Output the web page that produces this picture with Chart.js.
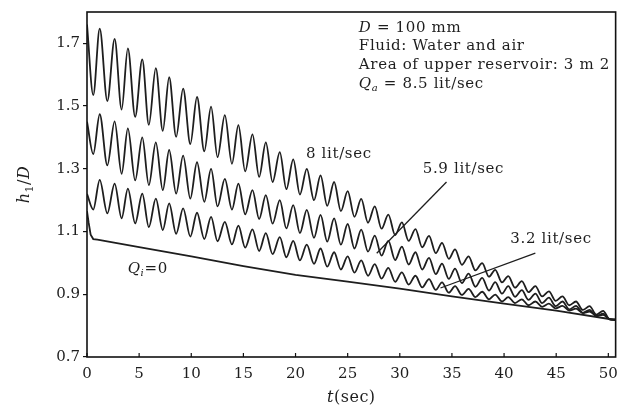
<!DOCTYPE html>
<html><head><meta charset="utf-8">
<script src="https://cdn.jsdelivr.net/npm/chart.js@4.4.0/dist/chart.umd.min.js"></script>
<style>html,body{margin:0;padding:0;background:#fff}</style>
</head><body>
<canvas id="c" width="626" height="420"></canvas>
<script>
// ---- data ----
const times = [0,0.6,1.22,1.95,2.65,3.32,3.92,4.62,5.3,5.93,
  6.6,7.27,7.88,8.55,9.22,9.91,10.55,11.25,11.9,12.52,
  13.22,13.9,14.52,15.17,15.87,16.51,17.15,17.8,18.49,19.12,
  19.78,20.42,21.08,21.77,22.4,23.04,23.7,24.35,25.0,25.65,
  26.3,26.95,27.6,28.25,28.9,29.55,30.2,30.85,31.5,32.15,
  32.8,33.45,34.05,34.7,35.3,35.95,36.6,37.25,37.9,38.55,
  39.15,39.8,40.4,41.05,41.7,42.35,43.0,43.65,44.3,44.95,
  45.6,46.25,46.9,47.55,48.2,48.85,49.5,50.1,50.7];
const q8 = [1.76,1.535,1.747,1.516,1.714,1.489,1.684,1.466,1.649,1.440,
  1.621,1.421,1.592,1.402,1.556,1.379,1.529,1.356,1.498,1.337,
  1.471,1.316,1.439,1.292,1.410,1.274,1.384,1.258,1.353,1.235,
  1.330,1.218,1.300,1.200,1.279,1.182,1.258,1.165,1.229,1.147,
  1.204,1.128,1.180,1.109,1.154,1.089,1.129,1.070,1.108,1.050,
  1.086,1.031,1.064,1.013,1.043,0.994,1.021,0.976,0.999,0.956,
  0.978,0.938,0.958,0.921,0.942,0.907,0.926,0.893,0.909,0.879,
  0.893,0.865,0.877,0.850,0.862,0.835,0.847,0.821,0.820];
const q59 = [1.45,1.347,1.474,1.311,1.451,1.284,1.429,1.263,1.400,1.248,
  1.384,1.232,1.360,1.221,1.342,1.205,1.321,1.195,1.300,1.180,
  1.268,1.170,1.253,1.155,1.232,1.140,1.216,1.125,1.200,1.110,
  1.184,1.095,1.169,1.080,1.153,1.068,1.142,1.058,1.124,1.046,
  1.106,1.036,1.087,1.023,1.070,1.009,1.052,0.995,1.034,0.979,
  1.016,0.964,0.998,0.949,0.982,0.936,0.966,0.924,0.952,0.912,
  0.939,0.902,0.926,0.892,0.913,0.882,0.902,0.872,0.889,0.862,
  0.877,0.852,0.863,0.841,0.850,0.830,0.838,0.820,0.819];
const q32 = [1.22,1.170,1.265,1.158,1.253,1.142,1.237,1.126,1.221,1.114,
  1.205,1.105,1.190,1.093,1.174,1.084,1.160,1.076,1.147,1.069,
  1.131,1.059,1.119,1.049,1.107,1.038,1.095,1.028,1.082,1.018,
  1.070,1.008,1.058,0.997,1.046,0.988,1.034,0.979,1.021,0.969,
  1.008,0.959,0.996,0.950,0.984,0.940,0.970,0.931,0.959,0.922,
  0.948,0.914,0.938,0.905,0.926,0.898,0.917,0.891,0.908,0.884,
  0.899,0.877,0.891,0.872,0.884,0.865,0.877,0.860,0.870,0.855,
  0.863,0.848,0.854,0.840,0.845,0.831,0.834,0.821,0.818];
const q0Times = [0,0.15,0.35,0.6,1,5,10,15,20,25,30,35,40,45,50.7];
const q0 = [1.165,1.13,1.09,1.076,1.074,1.05,1.021,0.99,0.962,0.94,0.918,0.893,0.87,0.848,0.818];
const xTicks = [0,5,10,15,20,25,30,35,40,45,50];
const yTicks = [0.7,0.9,1.1,1.3,1.5,1.7];
const seriesLabels = ['8 lit/sec','5.9 lit/sec','3.2 lit/sec'];
const infoLines = ['D = 100 mm','Fluid: Water and air','Area of upper reservoir: 3 m 2','Qa = 8.5 lit/sec'];

// ---- layout (in data units) ----
const labelPos = [[21.0,1.334],[32.2,1.286],[40.6,1.065]];
const pointers = [[34.48,1.258,27.79,1.031],[43.0,1.031,33.9,0.92]];
const q0LabelPos = [3.9,0.967];
const infoPos = [26.07,[1.735,1.678,1.618,1.558]];

const SERIF = '"DejaVu Serif", serif';
const R = '15px ' + SERIF, I = 'italic 15px ' + SERIF, SUB = 'italic 10px ' + SERIF;
const INK = '#1e1e1e';

function rich(ctx, x, y, segs){
  let cx = x;
  for (const s of segs){ ctx.font = s.f; ctx.fillText(s.t, cx, y + (s.dy||0)); cx += ctx.measureText(s.t).width; }
  return cx - x;
}
function richW(ctx, segs){ let w=0; for (const s of segs){ ctx.font=s.f; w+=ctx.measureText(s.t).width; } return w; }

const overlay = {
  id:'overlay',
  afterDraw(chart){
    const {ctx, chartArea:a, scales:{x,y}} = chart;
    ctx.save();
    ctx.strokeStyle = '#111'; ctx.lineWidth = 1.6;
    ctx.strokeRect(a.left, a.top, a.right-a.left, a.bottom-a.top);
    ctx.lineWidth = 1.2;
    xTicks.forEach(v=>{ const px=x.getPixelForValue(v); ctx.beginPath(); ctx.moveTo(px,a.bottom); ctx.lineTo(px,a.bottom-4); ctx.stroke(); });
    // pointer lines
    ctx.strokeStyle = INK; ctx.lineWidth = 1.3;
    pointers.forEach(p=>{ ctx.beginPath(); ctx.moveTo(x.getPixelForValue(p[0]),y.getPixelForValue(p[1])); ctx.lineTo(x.getPixelForValue(p[2]),y.getPixelForValue(p[3])); ctx.stroke(); });
    ctx.fillStyle = INK; ctx.textBaseline = 'alphabetic'; ctx.textAlign = 'left';
    ctx.letterSpacing = '0.65px';
    // series labels
    seriesLabels.forEach((t,i)=>{ ctx.font=R; ctx.fillText(t, x.getPixelForValue(labelPos[i][0]), y.getPixelForValue(labelPos[i][1])); });
    rich(ctx, x.getPixelForValue(q0LabelPos[0]), y.getPixelForValue(q0LabelPos[1]),
      [{t:'Q',f:I},{t:'i',f:SUB,dy:3},{t:'=0',f:R}]);
    // info block
    const ix = x.getPixelForValue(infoPos[0]);
    const iy = infoPos[1].map(v=>y.getPixelForValue(v));
    rich(ctx, ix, iy[0], [{t:'D',f:I},{t:infoLines[0].slice(1),f:R}]);
    ctx.font=R; ctx.fillText(infoLines[1], ix, iy[1]);
    ctx.fillText(infoLines[2], ix, iy[2]);
    rich(ctx, ix, iy[3], [{t:'Q',f:I},{t:'a',f:SUB,dy:3},{t:infoLines[3].slice(2),f:R}]);
    // axis titles
    ctx.letterSpacing = '0.5px';
    const xt = [{t:'t',f:'italic 16px '+SERIF},{t:'(sec)',f:'16px '+SERIF}];
    const xw = richW(ctx, xt);
    rich(ctx, (a.left+a.right)/2 - xw/2, 402, xt);
    const yt = [{t:'h',f:'italic 16px '+SERIF},{t:'1',f:'11px '+SERIF,dy:4},{t:'/',f:'16px '+SERIF},{t:'D',f:'italic 16px '+SERIF}];
    const yw = richW(ctx, yt);
    ctx.translate(29, (a.top+a.bottom)/2);
    ctx.rotate(-Math.PI/2);
    rich(ctx, -yw/2, 0, yt);
    ctx.restore();
  }
};

const mk = (vals, ts) => vals.map((v,i)=>({x:ts[i], y:v}));
const lineStyle = {borderColor:INK, borderWidth:1.8, pointRadius:0, fill:false, cubicInterpolationMode:'monotone'};

new Chart(document.getElementById('c'), {
  type:'line',
  data:{datasets:[
    Object.assign({label:seriesLabels[0], data:mk(q8,times)}, lineStyle),
    Object.assign({label:seriesLabels[1], data:mk(q59,times)}, lineStyle),
    Object.assign({label:seriesLabels[2], data:mk(q32,times)}, lineStyle),
    Object.assign({label:'Qi=0', data:mk(q0,q0Times)}, lineStyle, {cubicInterpolationMode:'default', tension:0})
  ]},
  options:{
    responsive:false, devicePixelRatio:1, animation:false,
    layout:{padding:{left:0,right:9,top:7,bottom:0}},
    plugins:{legend:{display:false}, tooltip:{enabled:false}},
    scales:{
      x:{type:'linear', min:0, max:50.7,
        afterBuildTicks:s=>{ s.ticks = xTicks.map(v=>({value:v})); },
        afterFit:s=>{ s.height = 63; },
        grid:{drawOnChartArea:false, drawTicks:false, display:false},
        border:{display:false},
        ticks:{padding:8, autoSkip:false, maxRotation:0, color:INK, font:{family:'DejaVu Serif', size:15}}},
      y:{type:'linear', min:0.7, max:1.8,
        afterBuildTicks:s=>{ s.ticks = yTicks.map(v=>({value:v})); },
        afterFit:s=>{ s.width = 87; },
        grid:{drawOnChartArea:false, drawTicks:true, tickLength:4, color:'#111', lineWidth:1.2},
        border:{display:false},
        ticks:{padding:3, color:INK, callback:v=>Number(v).toFixed(1), font:{family:'DejaVu Serif', size:15}}}
    }
  },
  plugins:[overlay]
});
</script>
</body></html>
